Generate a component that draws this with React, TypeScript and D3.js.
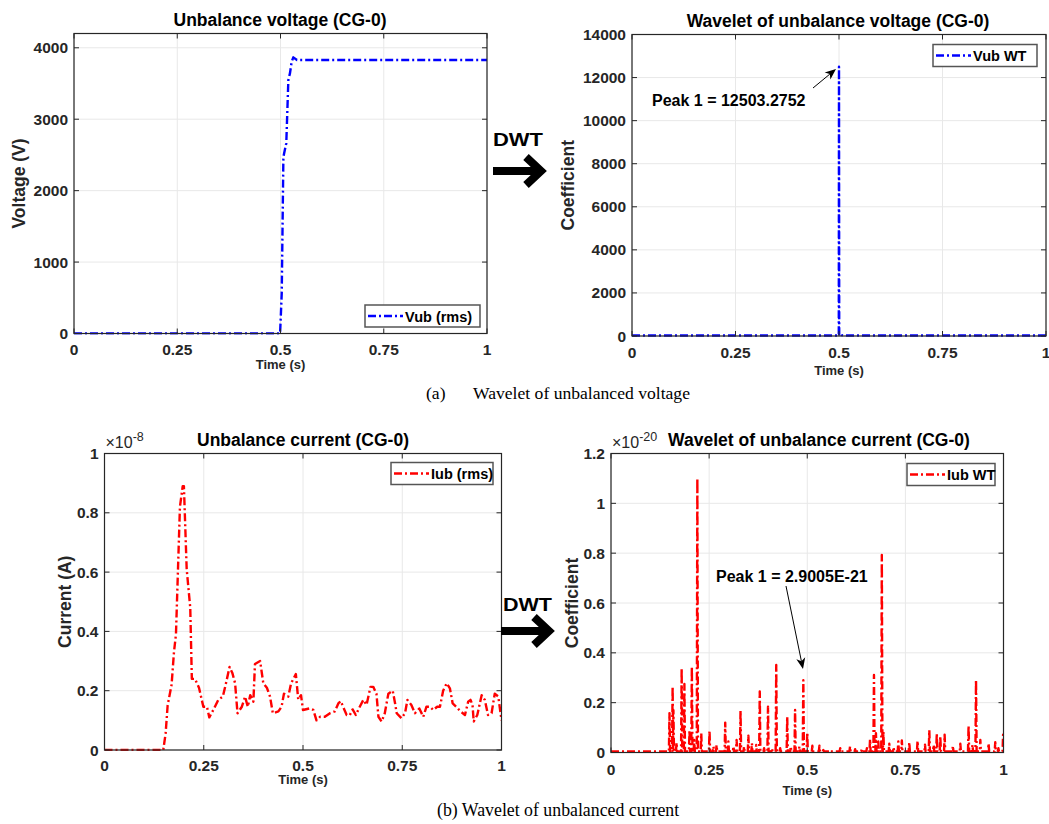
import React from "react";
import * as d3 from "d3";

// ---------------- Data ----------------
const xTicks = [0, 0.25, 0.5, 0.75, 1];
const xTickLabels = ["0", "0.25", "0.5", "0.75", "1"];

// (a) Unbalanced voltage (rms)
const vubTime = [0, 0.499, 0.503, 0.507, 0.514, 0.519, 0.523, 0.527, 0.531, 0.54, 1];
const vubValue = [0, 0, 563, 2473, 2665, 3548, 3645, 3804, 3866, 3828, 3828];
const vubTicks = [0, 1000, 2000, 3000, 4000];

// (a) Wavelet of unbalanced voltage
const vubWtTime = [0, 0.4995, 0.5, 0.5005, 0.503, 0.506, 0.51, 1];
const vubWtValue = [25, 25, 12503.2752, 30, 90, 40, 25, 25];
const vubWtTicks = [0, 2000, 4000, 6000, 8000, 10000, 12000, 14000];

// (b) Unbalanced current (rms), x1e-8
const iubTime = [0, 0.148, 0.154, 0.159, 0.169, 0.175, 0.18, 0.19, 0.197, 0.2, 0.207, 0.216, 0.22, 0.228, 0.238, 0.249, 0.258, 0.264, 0.274, 0.287, 0.298, 0.306, 0.315, 0.322, 0.329, 0.335, 0.346, 0.354, 0.361, 0.367, 0.375, 0.379, 0.392, 0.4, 0.409, 0.417, 0.424, 0.438, 0.446, 0.452, 0.463, 0.47, 0.482, 0.488, 0.495, 0.5, 0.516, 0.526, 0.534, 0.543, 0.555, 0.568, 0.58, 0.589, 0.595, 0.601, 0.61, 0.618, 0.625, 0.633, 0.643, 0.652, 0.66, 0.67, 0.677, 0.685, 0.69, 0.698, 0.706, 0.715, 0.726, 0.732, 0.736, 0.748, 0.757, 0.763, 0.773, 0.782, 0.793, 0.803, 0.811, 0.82, 0.828, 0.838, 0.845, 0.853, 0.862, 0.87, 0.877, 0.886, 0.897, 0.908, 0.916, 0.922, 0.927, 0.93, 0.939, 0.95, 0.958, 0.966, 0.975, 0.983, 0.992, 1.0];
const iubValue = [0, 0, 0.056, 0.15, 0.22, 0.33, 0.39, 0.82, 0.89, 0.89, 0.61, 0.48, 0.24, 0.24, 0.21, 0.146, 0.146, 0.11, 0.135, 0.17, 0.18, 0.225, 0.28, 0.26, 0.225, 0.124, 0.146, 0.18, 0.146, 0.185, 0.163, 0.29, 0.3, 0.225, 0.21, 0.18, 0.124, 0.13, 0.146, 0.19, 0.18, 0.225, 0.256, 0.17, 0.185, 0.135, 0.14, 0.135, 0.1, 0.112, 0.112, 0.124, 0.13, 0.157, 0.165, 0.146, 0.118, 0.118, 0.137, 0.118, 0.146, 0.169, 0.152, 0.213, 0.213, 0.19, 0.112, 0.096, 0.124, 0.19, 0.2, 0.157, 0.124, 0.107, 0.124, 0.169, 0.152, 0.124, 0.14, 0.112, 0.146, 0.146, 0.135, 0.146, 0.146, 0.2, 0.225, 0.208, 0.157, 0.146, 0.13, 0.118, 0.163, 0.169, 0.152, 0.096, 0.118, 0.185, 0.169, 0.118, 0.124, 0.19, 0.18, 0.1];
const iubTicks = [0, 0.2, 0.4, 0.6, 0.8, 1];

// (b) Wavelet of unbalanced current, x1e-20 (spike times / heights)
const iubWtTime = [0.149, 0.157, 0.159, 0.167, 0.18, 0.187, 0.2, 0.206, 0.212, 0.22, 0.23, 0.251, 0.261, 0.269, 0.291, 0.299, 0.312, 0.32, 0.33, 0.339, 0.35, 0.359, 0.37, 0.379, 0.39, 0.4, 0.41, 0.421, 0.431, 0.449, 0.458, 0.469, 0.48, 0.49, 0.5, 0.513, 0.531, 0.541, 0.558, 0.584, 0.609, 0.622, 0.639, 0.652, 0.66, 0.67, 0.675, 0.681, 0.69, 0.694, 0.709, 0.72, 0.732, 0.741, 0.76, 0.781, 0.8, 0.811, 0.822, 0.83, 0.839, 0.85, 0.871, 0.89, 0.911, 0.921, 0.93, 0.941, 0.962, 0.979, 0.987, 0.999];
const iubWtValue = [0.158, 0.265, 0.17, 0.04, 0.338, 0.275, 0.09, 0.345, 0.05, 1.1, 0.077, 0.088, 0.024, 0.03, 0.12, 0.044, 0.024, 0.05, 0.168, 0.024, 0.067, 0.037, 0.03, 0.245, 0.017, 0.184, 0.017, 0.351, 0.017, 0.144, 0.024, 0.171, 0.024, 0.29005, 0.08, 0.027, 0.027, 0.01, 0.008, 0.017, 0.024, 0.013, 0.013, 0.017, 0.053, 0.311, 0.077, 0.044, 0.793, 0.084, 0.035, 0.021, 0.044, 0.048, 0.041, 0.047, 0.031, 0.09, 0.031, 0.077, 0.064, 0.071, 0.027, 0.035, 0.107, 0.031, 0.291, 0.05, 0.037, 0.041, 0.017, 0.071];
const iubWtTicks = [0, 0.2, 0.4, 0.6, 0.8, 1, 1.2];

// ---------------- Styling ----------------
const FONT = "'Liberation Sans', Arial, Helvetica, sans-serif";
const SERIF = "'Liberation Serif', 'Times New Roman', serif";
const AX = "#262626";
const GRID = "#e8e8e8";
const DASH = "8,3,2,3";

type Pt = [number, number];

function zip(a: number[], b: number[]): Pt[] {
  return a.map((t, i) => [t, b[i]] as Pt);
}

function spikes(ts: number[], vs: number[]): Pt[] {
  const out: Pt[] = [[0, 0.004]];
  ts.forEach((t, i) => {
    out.push([t - 0.0015, 0.004]);
    out.push([t, vs[i]]);
    out.push([t + 0.0015, 0.004]);
  });
  out.push([1, 0.004]);
  return out;
}

interface PanelCfg {
  id: string;
  x0: number; x1: number; y0: number; y1: number;
  yDomain: [number, number];
  yTicks: number[];
  yFmt: (v: number) => string;
  data: Pt[];
  color: string;
  title: string; titleX: number; titleY: number;
  ylabel: string; ylabelX: number;
  xlabelY: number; xTickY: number;
  legend: string; legX: number; legY: number; legW: number;
  exponent?: string;
}

function Panel({ c }: { c: PanelCfg }) {
  const x = d3.scaleLinear().domain([0, 1]).range([c.x0, c.x1]);
  const y = d3.scaleLinear().domain(c.yDomain).range([c.y1, c.y0]);
  const line = d3.line<Pt>().x((d) => x(d[0])).y((d) => y(d[1]));
  const tk = 5;
  return (
    <g>
      <defs>
        <clipPath id={"clip" + c.id}>
          <rect x={c.x0} y={c.y0 - 1} width={c.x1 - c.x0} height={c.y1 - c.y0 + 2} />
        </clipPath>
      </defs>
      <rect x={c.x0} y={c.y0} width={c.x1 - c.x0} height={c.y1 - c.y0} fill="#fff" />
      {xTicks.map((t) => (
        <line key={"gx" + t} x1={x(t)} x2={x(t)} y1={c.y0} y2={c.y1} stroke={GRID} strokeWidth={1} />
      ))}
      {c.yTicks.map((t) => (
        <line key={"gy" + t} x1={c.x0} x2={c.x1} y1={y(t)} y2={y(t)} stroke={GRID} strokeWidth={1} />
      ))}
      <path d={line(c.data) || ""} fill="none" stroke={c.color} strokeWidth={2.4} strokeDasharray={DASH} clipPath={`url(#clip${c.id})`} strokeLinejoin="round" />
      <rect x={c.x0} y={c.y0} width={c.x1 - c.x0} height={c.y1 - c.y0} fill="none" stroke={AX} strokeWidth={1.2} />
      {xTicks.map((t, i) => (
        <g key={"tx" + t}>
          <line x1={x(t)} x2={x(t)} y1={c.y1} y2={c.y1 - tk} stroke={AX} />
          <line x1={x(t)} x2={x(t)} y1={c.y0} y2={c.y0 + tk} stroke={AX} />
          <text x={x(t)} y={c.xTickY} textAnchor="middle" fontFamily={FONT} fontWeight="bold" fontSize={15.5} fill={AX}>{xTickLabels[i]}</text>
        </g>
      ))}
      {c.yTicks.map((t) => (
        <g key={"ty" + t}>
          <line x1={c.x0} x2={c.x0 + tk} y1={y(t)} y2={y(t)} stroke={AX} />
          <line x1={c.x1} x2={c.x1 - tk} y1={y(t)} y2={y(t)} stroke={AX} />
          <text x={c.x0 - 6} y={y(t) + 5.5} textAnchor="end" fontFamily={FONT} fontWeight="bold" fontSize={15.5} fill={AX}>{c.yFmt(t)}</text>
        </g>
      ))}
      <text x={c.titleX} y={c.titleY} textAnchor="middle" fontFamily={FONT} fontWeight="bold" fontSize={17.5} fill="#000">{c.title}</text>
      <text x={(c.x0 + c.x1) / 2} y={c.xlabelY} textAnchor="middle" fontFamily={FONT} fontWeight="bold" fontSize={13} fill={AX}>Time (s)</text>
      <text transform={`translate(${c.ylabelX},${(c.y0 + c.y1) / 2}) rotate(-90)`} textAnchor="middle" fontFamily={FONT} fontWeight="bold" fontSize={17.5} fill={AX}>{c.ylabel}</text>
      {c.exponent && (
        <text x={c.x0 + 1} y={c.y0 - 6} fontFamily={FONT} fontSize={16} fill={AX}>
          ×10<tspan dy={-7} fontSize={12.5}>{c.exponent}</tspan>
        </text>
      )}
      <g>
        <rect x={c.legX} y={c.legY} width={c.legW} height={22} fill="#fff" stroke="#555" strokeWidth={1.5} />
        <line x1={c.legX + 3} x2={c.legX + 38} y1={c.legY + 11} y2={c.legY + 11} stroke={c.color} strokeWidth={2.4} strokeDasharray={DASH} />
        <text x={c.legX + 40} y={c.legY + 16.5} fontFamily={FONT} fontWeight="bold" fontSize={14.5} fill="#000">{c.legend}</text>
      </g>
    </g>
  );
}

function AnnotArrow({ x1, y1, x2, y2 }: { x1: number; y1: number; x2: number; y2: number }) {
  const dx = x2 - x1, dy = y2 - y1;
  const L = Math.hypot(dx, dy);
  const ux = dx / L, uy = dy / L;
  const px = -uy, py = ux;
  const hl = 11, hw = 4.5, notch = 3;
  const bx = x2 - ux * hl, by = y2 - uy * hl;
  const nx = x2 - ux * (hl - notch), ny = y2 - uy * (hl - notch);
  const head = `M${x2},${y2} L${bx + px * hw},${by + py * hw} L${nx},${ny} L${bx - px * hw},${by - py * hw} Z`;
  return (
    <g>
      <line x1={x1} y1={y1} x2={nx} y2={ny} stroke="#000" strokeWidth={1} />
      <path d={head} fill="#000" />
    </g>
  );
}

function BigArrow({ x, y, w }: { x: number; y: number; w: number }) {
  const tip = x + w;
  return (
    <g stroke="#000" strokeWidth={8} fill="none">
      <line x1={x} y1={y} x2={tip - 5} y2={y} />
      <polyline points={`${tip - 19},${y - 14} ${tip - 4},${y} ${tip - 19},${y + 14}`} strokeLinejoin="miter" strokeMiterlimit={4} />
    </g>
  );
}

const fmtInt = (v: number) => String(v);
const fmtDec = (v: number) => String(+v.toFixed(2));

export default function App() {
  const panels: PanelCfg[] = [
    {
      id: "a1", x0: 74, x1: 487, y0: 33.5, y1: 333.5, yDomain: [0, 4200], yTicks: vubTicks, yFmt: fmtInt,
      data: zip(vubTime, vubValue), color: "#0000ff",
      title: "Unbalance voltage (CG-0)", titleX: 280, titleY: 26,
      ylabel: "Voltage (V)", ylabelX: 25, xlabelY: 369, xTickY: 355,
      legend: "Vub (rms)", legX: 365, legY: 305, legW: 115,
    },
    {
      id: "a2", x0: 632, x1: 1046, y0: 34.5, y1: 336, yDomain: [0, 14000], yTicks: vubWtTicks, yFmt: fmtInt,
      data: zip(vubWtTime, vubWtValue), color: "#0000ff",
      title: "Wavelet of unbalance voltage (CG-0)", titleX: 838, titleY: 27,
      ylabel: "Coefficient", ylabelX: 574, xlabelY: 375, xTickY: 358,
      legend: "Vub WT", legX: 933, legY: 44.5, legW: 104,
    },
    {
      id: "b1", x0: 104.5, x1: 501.5, y0: 453.5, y1: 750, yDomain: [0, 1], yTicks: iubTicks, yFmt: fmtDec,
      data: zip(iubTime, iubValue), color: "#ff0000",
      title: "Unbalance current (CG-0)", titleX: 303, titleY: 446,
      ylabel: "Current (A)", ylabelX: 71, xlabelY: 784, xTickY: 771,
      legend: "Iub (rms)", legX: 391, legY: 462.5, legW: 102, exponent: "-8",
    },
    {
      id: "b2", x0: 611, x1: 1003.5, y0: 453.5, y1: 752.5, yDomain: [0, 1.2], yTicks: iubWtTicks, yFmt: fmtDec,
      data: spikes(iubWtTime, iubWtValue), color: "#ff0000",
      title: "Wavelet of unbalance current (CG-0)", titleX: 819, titleY: 446,
      ylabel: "Coefficient", ylabelX: 578, xlabelY: 795, xTickY: 775,
      legend: "Iub WT", legX: 907, legY: 463.5, legW: 88, exponent: "-20",
    },
  ];

  return (
    <svg width={1049} height={824} style={{ position: "absolute", left: 0, top: 0, background: "#fff" }}>
      <rect x={0} y={0} width={1049} height={824} fill="#fff" />
      {panels.map((p) => (
        <Panel key={p.id} c={p} />
      ))}

      {/* annotations */}
      <text x={652} y={106} fontFamily={FONT} fontWeight="bold" fontSize={16} fill="#000">Peak 1 = 12503.2752</text>
      <AnnotArrow x1={813} y1={88} x2={836} y2={69} />
      <text x={716} y={582} fontFamily={FONT} fontWeight="bold" fontSize={16} fill="#000">Peak 1 = 2.9005E-21</text>
      <AnnotArrow x1={786} y1={586} x2={803} y2={669} />

      {/* DWT arrows */}
      <text x={493} y={146} fontFamily={FONT} fontWeight="bold" fontSize={18} textLength={50} lengthAdjust="spacingAndGlyphs" fill="#000">DWT</text>
      <BigArrow x={493} y={171} w={52} />
      <text x={503} y={611} fontFamily={FONT} fontWeight="bold" fontSize={18} textLength={49} lengthAdjust="spacingAndGlyphs" fill="#000">DWT</text>
      <BigArrow x={501} y={631} w={52} />

      {/* captions */}
      <text x={426} y={399} fontFamily={SERIF} fontSize={17.6} fill="#000">(a)</text>
      <text x={473} y={399} fontFamily={SERIF} fontSize={17.6} fill="#000">Wavelet of unbalanced voltage</text>
      <text x={437} y={816} fontFamily={SERIF} fontSize={17.8} fill="#000">(b) Wavelet of unbalanced current</text>
    </svg>
  );
}
